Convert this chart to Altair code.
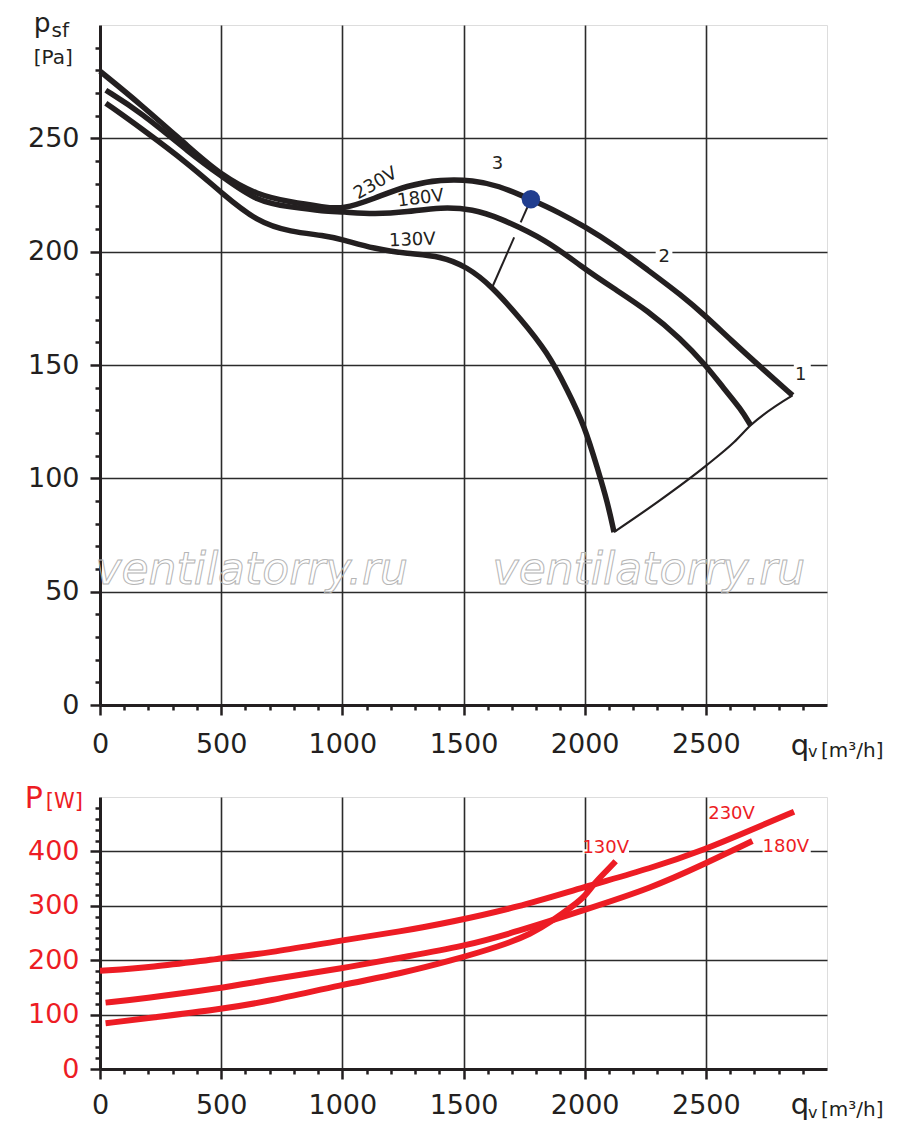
import altair as alt
import pandas as pd

# ---------------- top panel: static pressure p_sf [Pa] vs flow q_v [m3/h] ----------------
q_230 = [0, 168, 374, 500, 650, 787, 925, 1000, 1131, 1268, 1406, 1543, 1640, 1778, 1900, 2000, 2121, 2259, 2397, 2500, 2603, 2727, 2858]
p_230 = [279.6, 265.0, 245.4, 233.8, 224.9, 221.9, 219.7, 218.6, 223.4, 229.3, 231.9, 231.5, 229.3, 223.1, 217.0, 211.0, 203.0, 192.0, 181.0, 171.5, 161.0, 149.0, 136.6]
q_180 = [24, 168, 374, 500, 650, 787, 925, 1000, 1131, 1268, 1406, 1543, 1640, 1846, 1984, 2121, 2259, 2397, 2500, 2575, 2644, 2685]
p_180 = [271.2, 261.6, 243.2, 233.4, 221.9, 219.7, 217.8, 217.6, 216.5, 217.5, 219.7, 218.7, 215.3, 205.0, 193.5, 183.7, 174.1, 161.6, 149.9, 139.5, 130.7, 123.4]
q_130 = [24, 168, 374, 500, 650, 787, 925, 1000, 1131, 1268, 1406, 1516, 1612, 1736, 1846, 1929, 2000, 2053, 2094, 2121]
p_130 = [265.5, 254.6, 238.0, 226.0, 213.0, 208.7, 207.2, 205.4, 201.3, 199.1, 198.1, 193.2, 185.2, 170.4, 155.7, 139.0, 123.0, 104.3, 89.6, 76.3]

# system (installation) curve joining the curve end points
q_sys = [2121, 2300, 2500, 2617, 2685, 2858]
p_sys = [76.3, 89.5, 105.5, 116.0, 123.4, 136.6]

# duty point and its leader line
q_duty = [1778]
p_duty = [223.1]
q_lead = [1778, 1736, 1709, 1619]
p_lead = [223.1, 212.9, 206.3, 184.4]
seg_lead = [0, 0, 1, 1]

top_labels = ["230V", "180V", "130V", "3", "2", "1"]
top_label_q = [1138, 1323, 1289, 1640, 2328, 2892]
top_label_p = [230.0, 223.4, 205.0, 238.8, 197.6, 145.4]
top_label_angle = [330, 353, 358, 0, 0, 0]
gap_top_q1 = [2293, 2863]
gap_top_q2 = [2362, 2933]
gap_top_p1 = [198.0, 148.0]
gap_top_p2 = [202.0, 152.0]

watermark = ["ventilatorry.ru", "ventilatorry.ru"]
watermark_q = [626, 2265]
watermark_p = [53.4, 53.4]

# ---------------- bottom panel: power P [W] vs flow q_v [m3/h] ----------------
qP_230 = [0, 209, 500, 691, 1000, 1241, 1447, 1722, 2000, 2273, 2500, 2685, 2864]
P_230 = [180.5, 186.6, 203.7, 212.8, 237.0, 252.7, 270.0, 297.0, 335.0, 368.8, 404.0, 439.0, 473.0]
qP_180 = [23, 168, 500, 691, 1000, 1241, 1498, 1722, 2000, 2273, 2500, 2692]
P_180 = [122.0, 129.0, 148.6, 164.0, 185.0, 205.0, 225.0, 252.7, 292.5, 332.0, 378.0, 419.0]
qP_130 = [23, 209, 500, 691, 1000, 1241, 1447, 1654, 1778, 1873, 1955, 2000, 2039, 2094, 2128]
P_130 = [84.0, 94.2, 110.0, 124.0, 155.0, 175.6, 199.0, 226.0, 248.0, 274.0, 301.0, 317.0, 341.0, 366.0, 382.0]

bot_labels = ["130V", "180V", "230V"]
bot_label_q = [2087, 2830, 2606]
bot_label_p = [406.8, 408.6, 468.0]
gap_bot_q1 = [1991, 2734]
gap_bot_q2 = [2183, 2933]
gap_bot_p1 = [396.0, 396.0]
gap_bot_p2 = [404.0, 404.0]

# axis ticks
x_ticks = list(range(0, 3000, 100))
y_ticks_top = list(range(0, 300, 10))
y_ticks_bot = list(range(0, 500, 20))

FONT = "DejaVu Sans"
BLACK = "#231f20"
RED = "#ed1c24"
BLUE = "#203d8f"
W, H1, H2 = 727, 680, 272


def axis(values, major, pad, label_color, orient_x, limit=None):
    test = f"datum.value % {major} === 0"
    lab = test + (f" && datum.value < {limit}" if limit else "")
    kw = dict(
        values=values,
        labelExpr=f"({lab}) ? datum.label : ''",
        tickSize={"condition": {"test": test, "value": 10}, "value": 5},
        gridOpacity={"condition": {"test": test + " && datum.value > 0", "value": 1}, "value": 0},
        labelPadding=pad,
        labelFont=FONT, labelFontSize=27, labelColor=label_color,
        domainColor=BLACK, domainWidth=3, tickColor=BLACK, tickWidth=2.5,
        gridColor="#2b2b2b", gridWidth=1.6, title=None, labelOverlap=False,
        labelFlush=False, labelBound=False, format="d",
    )
    if not orient_x:
        kw["minExtent"] = 91
        kw["maxExtent"] = 91
    return alt.Axis(**kw)


def text_at(t, x, y, size, color):
    return alt.Chart(pd.DataFrame({"t": [t]})).mark_text(
        align="left", baseline="alphabetic", font=FONT, fontSize=size, color=color
    ).encode(text="t:N", x=alt.value(x), y=alt.value(y))


def X(f, ax, sc):
    return alt.X(f, scale=sc, axis=ax)


def Y(f, ax, sc):
    return alt.Y(f, scale=sc, axis=ax)


# ---------------- top chart ----------------
xs_top = alt.Scale(domain=[0, 3000], nice=False)
ys_top = alt.Scale(domain=[0, 300], nice=False)
ax_x_top = axis(x_ticks, 500, 16, BLACK, True, 3000)
ax_y_top = axis(y_ticks_top, 50, 11, BLACK, False)

press = pd.concat([
    pd.DataFrame({"q": q_230, "p": p_230, "s": "230V"}),
    pd.DataFrame({"q": q_180, "p": p_180, "s": "180V"}),
    pd.DataFrame({"q": q_130, "p": p_130, "s": "130V"}),
])

gaps_top = alt.Chart(pd.DataFrame({"q": gap_top_q1, "q2": gap_top_q2, "p": gap_top_p1, "p2": gap_top_p2})).mark_rect(
    color="white").encode(x=X("q:Q", ax_x_top, xs_top), x2="q2:Q", y=Y("p:Q", ax_y_top, ys_top), y2="p2:Q")

wm = alt.Chart(pd.DataFrame({"q": watermark_q, "p": watermark_p, "t": watermark})).mark_text(
    font=FONT, fontSize=44, fontStyle="italic", align="center", baseline="alphabetic",
    fill="white", fillOpacity=0, stroke="#b5b5b5", strokeWidth=1
).encode(x=X("q:Q", ax_x_top, xs_top), y=Y("p:Q", ax_y_top, ys_top), text="t:N")

sys_line = alt.Chart(pd.DataFrame({"q": q_sys, "p": p_sys})).mark_line(
    color=BLACK, strokeWidth=2.2, interpolate="monotone"
).encode(x=X("q:Q", ax_x_top, xs_top), y=Y("p:Q", ax_y_top, ys_top))

lead = alt.Chart(pd.DataFrame({"q": q_lead, "p": p_lead, "g": seg_lead})).mark_line(
    color=BLACK, strokeWidth=2.0
).encode(x=X("q:Q", ax_x_top, xs_top), y=Y("p:Q", ax_y_top, ys_top), detail="g:N")

curves = alt.Chart(press).mark_line(
    color=BLACK, strokeWidth=5.5, interpolate="basis", strokeCap="butt", strokeJoin="round"
).encode(x=X("q:Q", ax_x_top, xs_top), y=Y("p:Q", ax_y_top, ys_top), detail="s:N")

duty = alt.Chart(pd.DataFrame({"q": q_duty, "p": p_duty})).mark_circle(
    size=340, color=BLUE, opacity=1
).encode(x=X("q:Q", ax_x_top, xs_top), y=Y("p:Q", ax_y_top, ys_top))

labs_top = alt.Chart(pd.DataFrame({"q": top_label_q, "p": top_label_p, "t": top_labels, "a": top_label_angle})).mark_text(
    font=FONT, fontSize=18, color=BLACK, align="center", baseline="middle"
).encode(x=X("q:Q", ax_x_top, xs_top), y=Y("p:Q", ax_y_top, ys_top), text="t:N", angle=alt.Angle("a:Q", scale=None))

top = alt.layer(
    gaps_top, wm, sys_line, lead, curves, duty, labs_top,
    text_at("p", -66.3, 6.5, 26.5, BLACK),
    text_at("sf", -48.5, 12, 20, BLACK),
    text_at("[Pa]", -66.3, 39.4, 20, BLACK),
    text_at("q", 690.7, 730, 29, BLACK),
    text_at("v", 708, 732, 16, BLACK),
    text_at("[m³/h]", 721, 732, 20, BLACK),
).properties(width=W, height=H1)

# ---------------- bottom chart ----------------
xs_bot = alt.Scale(domain=[0, 3000], nice=False)
ys_bot = alt.Scale(domain=[0, 500], nice=False)
ax_x_bot = axis(x_ticks, 500, 13, BLACK, True, 3000)
ax_y_bot = axis(y_ticks_bot, 100, 11, RED, False)

power = pd.concat([
    pd.DataFrame({"q": qP_230, "P": P_230, "s": "230V"}),
    pd.DataFrame({"q": qP_180, "P": P_180, "s": "180V"}),
    pd.DataFrame({"q": qP_130, "P": P_130, "s": "130V"}),
])

gaps_bot = alt.Chart(pd.DataFrame({"q": gap_bot_q1, "q2": gap_bot_q2, "P": gap_bot_p1, "P2": gap_bot_p2})).mark_rect(
    color="white").encode(x=X("q:Q", ax_x_bot, xs_bot), x2="q2:Q", y=Y("P:Q", ax_y_bot, ys_bot), y2="P2:Q")

pcurves = alt.Chart(power).mark_line(
    color=RED, strokeWidth=6, interpolate="basis", strokeCap="butt"
).encode(x=X("q:Q", ax_x_bot, xs_bot), y=Y("P:Q", ax_y_bot, ys_bot), detail="s:N")

labs_bot = alt.Chart(pd.DataFrame({"q": bot_label_q, "P": bot_label_p, "t": bot_labels})).mark_text(
    font=FONT, fontSize=18, color=RED, align="center", baseline="middle"
).encode(x=X("q:Q", ax_x_bot, xs_bot), y=Y("P:Q", ax_y_bot, ys_bot), text="t:N")

bottom = alt.layer(
    gaps_bot, pcurves, labs_bot,
    text_at("P", -75.3, 11.3, 30, RED),
    text_at("[W]", -54.3, 11.3, 21, RED),
    text_at("q", 690.7, 317.3, 29, BLACK),
    text_at("v", 708, 321, 16, BLACK),
    text_at("[m³/h]", 721, 319, 20, BLACK),
).properties(width=W, height=H2)

chart = alt.vconcat(top, bottom, spacing=92, bounds="flush").properties(
    padding={"left": 0, "top": 2, "right": 5, "bottom": 5}
).configure_view(stroke=BLACK, strokeWidth=3).configure(background="white")

chart.save("out.html", embed_options={"renderer": "svg", "actions": False})
